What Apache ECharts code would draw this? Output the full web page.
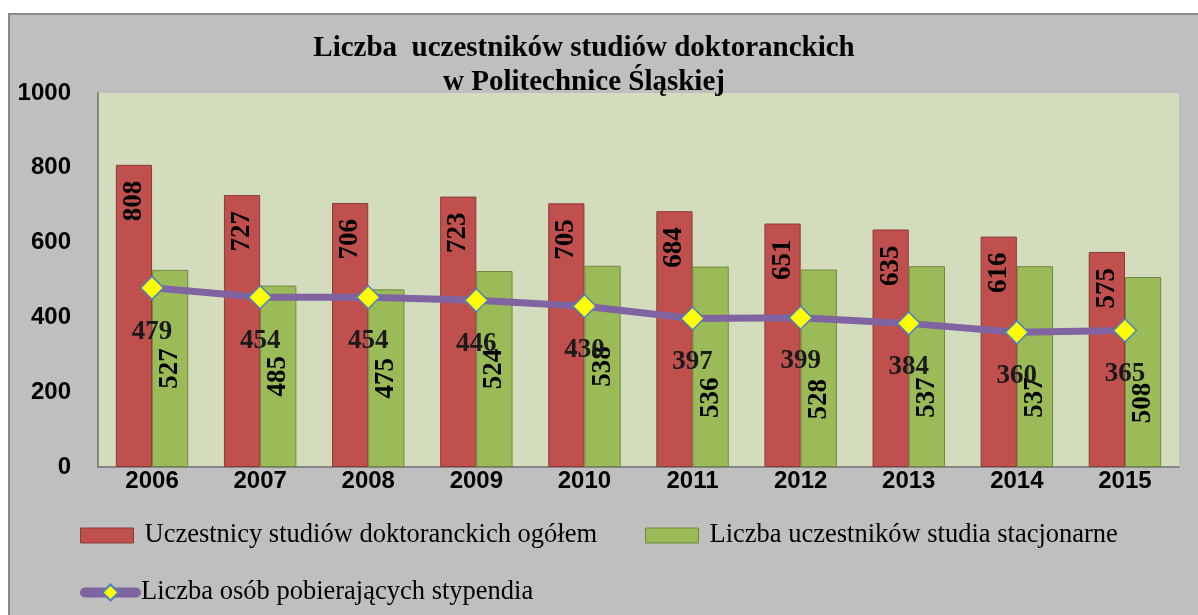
<!DOCTYPE html>
<html><head><meta charset="utf-8">
<script src="https://cdn.jsdelivr.net/npm/echarts@6/dist/echarts.min.js"></script>
<style>html,body{margin:0;padding:0;background:#fff}#c{width:1198px;height:615px}</style>
</head><body><div id="c"></div>
<script>
const categories = ['2006','2007','2008','2009','2010','2011','2012','2013','2014','2015'];
const totalValues = [808,727,706,723,705,684,651,635,616,575];
const stationaryValues = [527,485,475,524,538,536,528,537,537,508];
const stipendValues = [479,454,454,446,430,397,399,384,360,365];
const yTicks = {min:0, max:1000, interval:200};
const titleText = 'Liczba  uczestników studiów doktoranckich\nw Politechnice Śląskiej';
const names = ['Uczestnicy studiów doktoranckich ogółem','Liczba uczestników studia stacjonarne','Liczba osób pobierających stypendia'];

const serif = '"Liberation Serif","Times New Roman",serif';
const sans = '"Liberation Sans",Arial,sans-serif';
const chart = echarts.init(document.getElementById('c'));
const legendText = {fontFamily: serif, fontSize: 26.5, color: '#000', padding:[0,0,0,6]};
// green labels from 2011 on sit lower (moved in the original to clear the line labels)
// offset is in the rotated label frame: negative x moves the label down the bar
const stationaryData = stationaryValues.map((v, i) => i >= 5 ? {value: v, label: {offset: [-31, 0]}} : v);
chart.setOption({
  backgroundColor: '#ffffff',
  animation: false,
  graphic: [
    {type:'rect', z:-10, shape:{x:9,y:14,width:1200,height:620}, style:{fill:'#BFBFBF', stroke:'#888888', lineWidth:2}},
    {type:'text', z:10, x:584, y:32, style:{text:titleText, font:'bold 29px '+serif, textAlign:'center', fill:'#000', lineHeight:34}}
  ],
  grid: {left:98, right:19, top:93, bottom:148, show:true, backgroundColor:'#D3DDBE', borderWidth:0},
  legend: [
    {data:[names[0]], left:80, top:522, padding:0, icon:'rect', itemWidth:53, itemHeight:15, textStyle:legendText, itemStyle:{borderColor:'#8C3A38', borderWidth:1}},
    {data:[names[1]], left:645, top:522, padding:0, icon:'rect', itemWidth:53, itemHeight:15, textStyle:legendText, itemStyle:{borderColor:'#71893F', borderWidth:1}},
    {data:[names[2]], left:80, top:579, padding:0, itemWidth:51, itemHeight:20,
     lineStyle:{width:10, cap:'round'},
     textStyle:Object.assign({}, legendText, {padding:[0,0,0,0]})}
  ],
  xAxis: {
    type:'category', data:categories,
    axisLine:{lineStyle:{color:'#868686', width:2}},
    axisTick:{show:false},
    axisLabel:{fontFamily:sans, fontWeight:'bold', fontSize:24, color:'#000', margin:2}
  },
  yAxis: {
    type:'value', min:yTicks.min, max:yTicks.max, interval:yTicks.interval,
    axisLine:{show:true, lineStyle:{color:'#868686', width:2}},
    axisTick:{show:false},
    splitLine:{show:false},
    axisLabel:{fontFamily:sans, fontWeight:'bold', fontSize:24, color:'#000', margin:27, padding:[6,0,0,0],
               formatter: v => String(v)}
  },
  series: [
    {name:names[0], type:'bar', data:totalValues, barGap:'0%', barCategoryGap:'33%',
     itemStyle:{color:'#C0504D', borderColor:'#8C3A38', borderWidth:1},
     label:{show:true, position:'insideTop', rotate:90, align:'right', verticalAlign:'middle', distance:16,
            fontFamily:serif, fontWeight:'bold', fontSize:27, color:'#000'}},
    {name:names[1], type:'bar', data:stationaryData,
     itemStyle:{color:'#9BBB59', borderColor:'#71893F', borderWidth:1},
     label:{show:true, position:'inside', rotate:90, fontFamily:serif, fontWeight:'bold', fontSize:27, color:'#000'}},
    {name:names[2], type:'line', data:stipendValues, symbol:'diamond', symbolSize:23,
     lineStyle:{color:'#8064A2', width:7}, itemStyle:{color:'#FFFF00', borderColor:'#4F81BD', borderWidth:1.5},
     label:{show:true, position:'bottom', distance:18, fontFamily:serif, fontWeight:'bold', fontSize:27, color:'#1a1a1a'}, z:5}
  ]
});
</script></body></html>
